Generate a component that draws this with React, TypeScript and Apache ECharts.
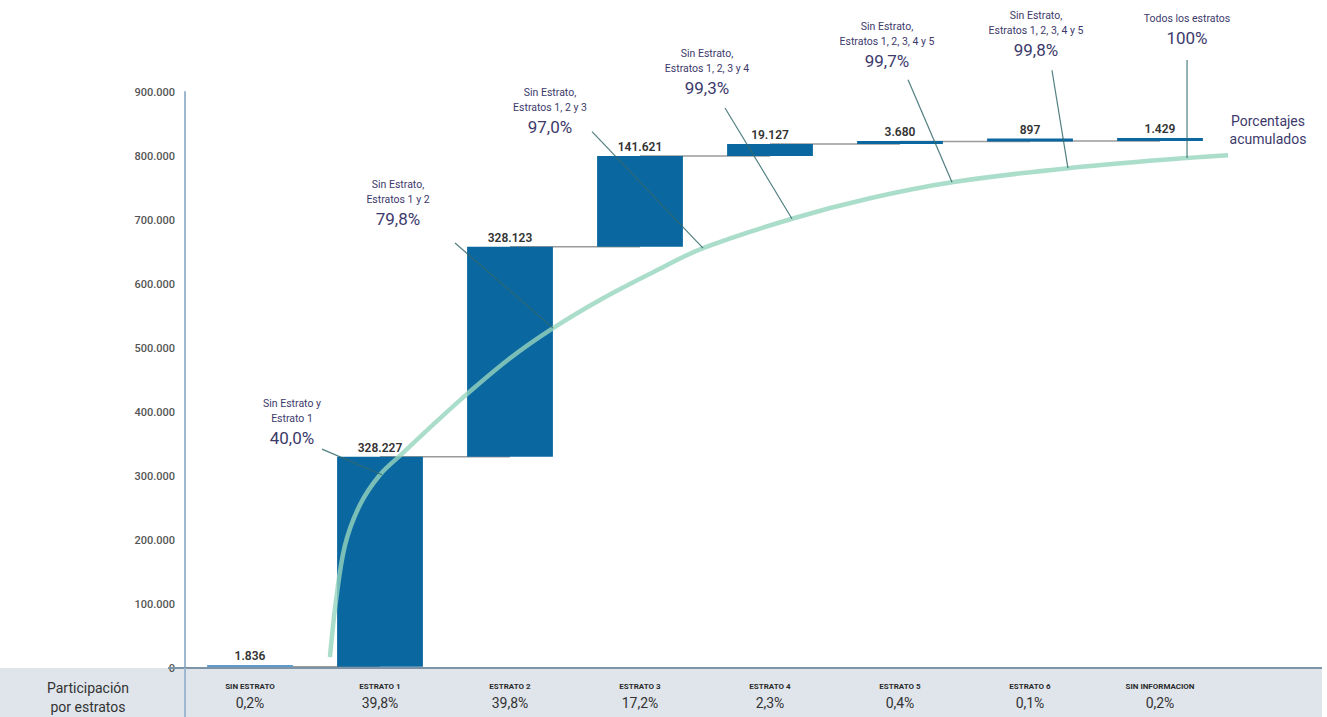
import React, { useEffect, useRef } from "react";
import * as echarts from "echarts";

// ---- data ----
const categories = ["SIN ESTRATO", "ESTRATO 1", "ESTRATO 2", "ESTRATO 3", "ESTRATO 4", "ESTRATO 5", "ESTRATO 6", "SIN INFORMACION"];
const shares = ["0,2%", "39,8%", "39,8%", "17,2%", "2,3%", "0,4%", "0,1%", "0,2%"];
const values = [1836, 328227, 328123, 141621, 19127, 3680, 897, 1429];
const yMin = 0;
const yMax = 900000;
const yInterval = 100000;

// cumulative-percentage curve (decorative), x in category units (0..8), y in axis units
const curveX = [1.115, 1.162, 1.231, 1.346, 1.5, 1.677, 1.923, 2.169, 2.5, 2.831, 3.192, 3.577, 3.985, 4.669, 5.269, 5.9, 6.792, 7.708, 8.331];
const curveY = [17000, 106000, 192000, 255000, 302000, 336000, 383000, 428000, 484000, 531000, 575000, 616000, 656000, 702000, 734000, 759000, 781000, 797000, 805000];

// annotations
const annTitles = [
  ["Sin Estrato y", "Estrato 1"],
  ["Sin Estrato,", "Estratos 1 y 2"],
  ["Sin Estrato,", "Estratos 1, 2 y 3"],
  ["Sin Estrato,", "Estratos 1, 2, 3 y 4"],
  ["Sin Estrato,", "Estratos 1, 2, 3, 4 y 5"],
  ["Sin Estrato,", "Estratos 1, 2, 3, 4 y 5"],
  ["Todos los estratos"],
];
const annPercents = ["40,0%", "79,8%", "97,0%", "99,3%", "99,7%", "99,8%", "100%"];
// leader lines: start/end in (category units, axis units)
const leaderStartX = [1.054, 2.077, 3.131, 4.154, 5.562, 6.669, 7.708];
const leaderStartY = [342000, 664000, 838000, 875000, 919000, 934000, 950000];
const leaderEndX = [1.515, 2.831, 3.985, 4.669, 5.9, 6.792, 7.708];
const leaderEndY = [302000, 531000, 656000, 702000, 759000, 781000, 797000];

const fmt = (n: number) => String(n).replace(/\B(?=(\d{3})+(?!\d))/g, ".");

// layout
const GRID = { left: 185, right: 102, top: 92, bottom: 49 };
const annAnchors = [
  [292, 396], [398, 177], [550, 85], [707, 46], [887, 19], [1036, 8], [1187, 11],
];

export default function App() {
  const ref = useRef<HTMLDivElement>(null);
  useEffect(() => {
    if (!ref.current) return;
    const chart = echarts.init(ref.current, null, { renderer: "svg" });
    const bases: number[] = [];
    let acc = 0;
    values.forEach((v) => {
      bases.push(acc);
      acc += v;
    });
    const tops = values.map((v, i) => bases[i] + v);

    const connectorSeries = tops.slice(0, tops.length - 1).map((t, i) => ({
      type: "line",
      xAxisIndex: 1,
      yAxisIndex: 0,
      data: [
        [i + 0.5, t],
        [i + 1.5, t],
      ],
      symbol: "none",
      silent: true,
      z: 1,
      lineStyle: { color: "#9a9a9a", width: 1.5 },
    }));

    const leaderSeries = leaderStartX.map((sx, i) => ({
      type: "line",
      xAxisIndex: 1,
      yAxisIndex: 0,
      data: [
        [sx, leaderStartY[i]],
        [leaderEndX[i], leaderEndY[i]],
      ],
      symbol: "none",
      silent: true,
      clip: false,
      z: 5,
      lineStyle: { color: "#33686b", width: 1.2, opacity: 0.85 },
    }));

    const annGraphics = annTitles.map((lines, i) => ({
      type: "text",
      x: annAnchors[i][0],
      y: annAnchors[i][1],
      style: {
        text: lines.map((l) => `{s|${l}}`).join("\n") + `\n{b|${annPercents[i]}}`,
        align: "center",
        verticalAlign: "top",
        rich: {
          s: { fontSize: 10.5, lineHeight: 15, fill: "#3d3a6b", fontFamily: "Roboto", align: "center" },
          b: { fontSize: 17, lineHeight: 24, fill: "#3d3a6b", fontFamily: "Roboto", align: "center" },
        },
      },
    }));

    chart.setOption({
      animation: false,
      textStyle: { fontFamily: "Roboto" },
      grid: GRID,
      xAxis: [
        {
          type: "category",
          data: categories,
          axisLine: { show: false },
          axisTick: { show: false },
          axisLabel: {
            margin: 10,
            interval: 0,
            formatter: (v: string, i: number) => `{n|${v}}\n{p|${shares[i]}}`,
            rich: {
              n: { fontSize: 8, fontWeight: "bold", color: "#2b2b2b", lineHeight: 16, fontFamily: "Roboto" },
              p: { fontSize: 14, color: "#333", lineHeight: 18, fontFamily: "Roboto" },
            },
          },
        },
        { type: "value", min: 0, max: 8, show: false },
      ],
      yAxis: {
        type: "value",
        min: yMin,
        max: yMax,
        interval: yInterval,
        splitLine: { show: false },
        axisTick: { show: false },
        axisLine: { show: true, lineStyle: { color: "#9db8d0", width: 2 } },
        axisLabel: {
          formatter: (v: number) => fmt(v),
          fontSize: 11,
          color: "#555",
          fontWeight: 500,
          margin: 10,
        },
      },
      series: [
        {
          type: "bar",
          stack: "w",
          data: bases,
          itemStyle: { color: "transparent" },
          barWidth: "66%",
          silent: true,
          z: 2,
        },
        {
          type: "bar",
          stack: "w",
          barWidth: "66%",
          barMinHeight: 3,
          z: 2,
          data: values.map((v, i) => ({
            value: v,
            itemStyle: { color: i === 0 ? "#5f9ccc" : "#0b67a0" },
          })),
          label: {
            show: true,
            position: "top",
            distance: 3,
            formatter: (p: any) => fmt(p.value),
            fontSize: 12,
            fontWeight: 600,
            color: "#333",
          },
        },
        ...connectorSeries,
        {
          type: "line",
          xAxisIndex: 1,
          yAxisIndex: 0,
          data: curveX.map((x, i) => [x, curveY[i]]),
          smooth: 0.35,
          symbol: "none",
          clip: false,
          silent: true,
          z: 4,
          lineStyle: { color: "rgba(150,212,190,0.8)", width: 4.5 },
        },
        ...leaderSeries,
      ],
      graphic: [
        {
          type: "rect",
          z: -10,
          shape: { x: 0, y: 668, width: 1322, height: 49 },
          style: { fill: "#dfe5eb" },
        },
        {
          type: "line",
          z: 10,
          shape: { x1: 168, y1: 668, x2: 1322, y2: 668 },
          style: { stroke: "#7f93a6", lineWidth: 2 },
        },
        {
          type: "line",
          z: 10,
          shape: { x1: 185, y1: 668, x2: 185, y2: 717 },
          style: { stroke: "#9db8d0", lineWidth: 2 },
        },
        {
          type: "text",
          x: 88,
          y: 697,
          style: {
            text: "Participación\npor estratos",
            align: "center",
            verticalAlign: "middle",
            fontSize: 14,
            lineHeight: 19,
            fill: "#333",
            fontFamily: "Roboto",
          },
        },
        {
          type: "text",
          x: 1268,
          y: 130,
          style: {
            text: "Porcentajes\nacumulados",
            align: "center",
            verticalAlign: "middle",
            fontSize: 14,
            lineHeight: 18,
            fill: "#3d3a6b",
            fontFamily: "Roboto",
          },
        },
        ...annGraphics,
      ],
    });
    return () => chart.dispose();
  }, []);
  return (
    <div
      ref={ref}
      style={{ position: "fixed", left: 0, top: 0, width: 1327, height: 717, background: "#fff" }}
    />
  );
}
